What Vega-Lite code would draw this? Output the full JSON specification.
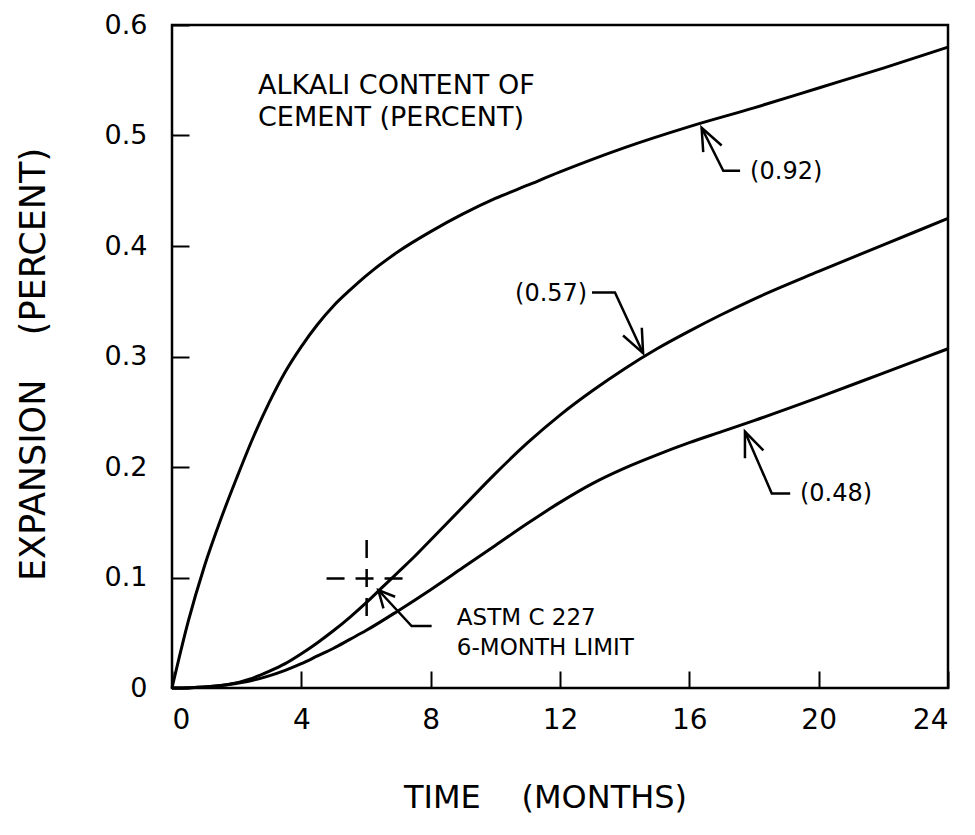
{
  "$schema": "https://vega.github.io/schema/vega-lite/v6.json",
  "width": 776,
  "height": 663,
  "autosize": {"type": "none"},
  "padding": {"left": 172, "top": 25, "right": 27, "bottom": 147},
  "background": "white",
  "config": {
    "view": {"stroke": "black", "strokeWidth": 2.5},
    "font": "DejaVu Sans",
    "axis": {
      "domain": false,
      "grid": false,
      "ticks": true,
      "tickColor": "black",
      "tickWidth": 2,
      "tickSize": -17,
      "labelColor": "black",
      "labelFont": "DejaVu Sans",
      "labelFontSize": 27,
      "titleColor": "black",
      "titleFont": "DejaVu Sans",
      "titleFontWeight": "normal"
    }
  },
  "datasets": {
    "curves": [
      {"alkali": "0.92", "t": 0, "v": 0},
      {"alkali": "0.92", "t": 0.5, "v": 0.06},
      {"alkali": "0.92", "t": 1.0, "v": 0.11},
      {"alkali": "0.92", "t": 1.5, "v": 0.152},
      {"alkali": "0.92", "t": 2.0, "v": 0.19},
      {"alkali": "0.92", "t": 2.5, "v": 0.226},
      {"alkali": "0.92", "t": 3.0, "v": 0.258},
      {"alkali": "0.92", "t": 3.5, "v": 0.286},
      {"alkali": "0.92", "t": 4.0, "v": 0.309},
      {"alkali": "0.92", "t": 4.5, "v": 0.329},
      {"alkali": "0.92", "t": 5.0, "v": 0.346},
      {"alkali": "0.92", "t": 5.5, "v": 0.36},
      {"alkali": "0.92", "t": 6.0, "v": 0.373},
      {"alkali": "0.92", "t": 7.0, "v": 0.395},
      {"alkali": "0.92", "t": 8.0, "v": 0.413},
      {"alkali": "0.92", "t": 9.0, "v": 0.429},
      {"alkali": "0.92", "t": 10.0, "v": 0.443},
      {"alkali": "0.92", "t": 11.0, "v": 0.455},
      {"alkali": "0.92", "t": 12.0, "v": 0.467},
      {"alkali": "0.92", "t": 14.0, "v": 0.489},
      {"alkali": "0.92", "t": 16.0, "v": 0.508},
      {"alkali": "0.92", "t": 18.0, "v": 0.525},
      {"alkali": "0.92", "t": 20.0, "v": 0.543},
      {"alkali": "0.92", "t": 22.0, "v": 0.561},
      {"alkali": "0.92", "t": 24, "v": 0.58},
      {"alkali": "0.57", "t": 0, "v": 0},
      {"alkali": "0.57", "t": 1.0, "v": 0.001},
      {"alkali": "0.57", "t": 1.7, "v": 0.003},
      {"alkali": "0.57", "t": 2.5, "v": 0.009},
      {"alkali": "0.57", "t": 3.0, "v": 0.015},
      {"alkali": "0.57", "t": 3.5, "v": 0.022},
      {"alkali": "0.57", "t": 4.0, "v": 0.031},
      {"alkali": "0.57", "t": 4.5, "v": 0.041},
      {"alkali": "0.57", "t": 5.0, "v": 0.052},
      {"alkali": "0.57", "t": 5.5, "v": 0.064},
      {"alkali": "0.57", "t": 6.0, "v": 0.077},
      {"alkali": "0.57", "t": 6.5, "v": 0.091},
      {"alkali": "0.57", "t": 7.0, "v": 0.105},
      {"alkali": "0.57", "t": 7.5, "v": 0.119},
      {"alkali": "0.57", "t": 8.0, "v": 0.134},
      {"alkali": "0.57", "t": 9.0, "v": 0.164},
      {"alkali": "0.57", "t": 10.0, "v": 0.194},
      {"alkali": "0.57", "t": 11.0, "v": 0.222},
      {"alkali": "0.57", "t": 12.0, "v": 0.247},
      {"alkali": "0.57", "t": 13.0, "v": 0.269},
      {"alkali": "0.57", "t": 14.0, "v": 0.289},
      {"alkali": "0.57", "t": 15.0, "v": 0.307},
      {"alkali": "0.57", "t": 16.0, "v": 0.323},
      {"alkali": "0.57", "t": 17.0, "v": 0.338},
      {"alkali": "0.57", "t": 18.0, "v": 0.352},
      {"alkali": "0.57", "t": 20.0, "v": 0.377},
      {"alkali": "0.57", "t": 22.0, "v": 0.401},
      {"alkali": "0.57", "t": 24, "v": 0.425},
      {"alkali": "0.48", "t": 0, "v": 0},
      {"alkali": "0.48", "t": 1.0, "v": 0.001},
      {"alkali": "0.48", "t": 1.7, "v": 0.003},
      {"alkali": "0.48", "t": 2.5, "v": 0.007},
      {"alkali": "0.48", "t": 3.0, "v": 0.011},
      {"alkali": "0.48", "t": 3.5, "v": 0.016},
      {"alkali": "0.48", "t": 4.0, "v": 0.022},
      {"alkali": "0.48", "t": 4.5, "v": 0.029},
      {"alkali": "0.48", "t": 5.0, "v": 0.036},
      {"alkali": "0.48", "t": 5.5, "v": 0.044},
      {"alkali": "0.48", "t": 6.0, "v": 0.052},
      {"alkali": "0.48", "t": 7.0, "v": 0.07},
      {"alkali": "0.48", "t": 8.0, "v": 0.089},
      {"alkali": "0.48", "t": 9.0, "v": 0.109},
      {"alkali": "0.48", "t": 10.0, "v": 0.129},
      {"alkali": "0.48", "t": 11.0, "v": 0.149},
      {"alkali": "0.48", "t": 12.0, "v": 0.168},
      {"alkali": "0.48", "t": 13.0, "v": 0.185},
      {"alkali": "0.48", "t": 14.0, "v": 0.199},
      {"alkali": "0.48", "t": 15.0, "v": 0.211},
      {"alkali": "0.48", "t": 16.0, "v": 0.222},
      {"alkali": "0.48", "t": 17.0, "v": 0.232},
      {"alkali": "0.48", "t": 18.0, "v": 0.242},
      {"alkali": "0.48", "t": 20.0, "v": 0.263},
      {"alkali": "0.48", "t": 22.0, "v": 0.285},
      {"alkali": "0.48", "t": 24, "v": 0.307}
    ],
    "arrows": [
      {"seg": "s92", "i": 0, "t": 17.57, "v": 0.468},
      {"seg": "s92", "i": 1, "t": 17.05, "v": 0.468},
      {"seg": "s92", "i": 2, "t": 16.38, "v": 0.507},
      {"seg": "h92", "i": 0, "t": 16.43, "v": 0.485},
      {"seg": "h92", "i": 1, "t": 16.38, "v": 0.507},
      {"seg": "h92", "i": 2, "t": 17.0, "v": 0.491},
      {"seg": "s57", "i": 0, "t": 12.99, "v": 0.358},
      {"seg": "s57", "i": 1, "t": 13.7, "v": 0.358},
      {"seg": "s57", "i": 2, "t": 14.57, "v": 0.303},
      {"seg": "h57", "i": 0, "t": 14.53, "v": 0.326},
      {"seg": "h57", "i": 1, "t": 14.57, "v": 0.303},
      {"seg": "h57", "i": 2, "t": 13.95, "v": 0.319},
      {"seg": "s48", "i": 0, "t": 19.12, "v": 0.176},
      {"seg": "s48", "i": 1, "t": 18.55, "v": 0.176},
      {"seg": "s48", "i": 2, "t": 17.72, "v": 0.232},
      {"seg": "h48", "i": 0, "t": 17.72, "v": 0.208},
      {"seg": "h48", "i": 1, "t": 17.72, "v": 0.232},
      {"seg": "h48", "i": 2, "t": 18.29, "v": 0.215},
      {"seg": "sastm", "i": 0, "t": 8.03, "v": 0.056},
      {"seg": "sastm", "i": 1, "t": 7.41, "v": 0.056},
      {"seg": "sastm", "i": 2, "t": 6.38, "v": 0.0887},
      {"seg": "hastm", "i": 0, "t": 6.9, "v": 0.0826},
      {"seg": "hastm", "i": 1, "t": 6.38, "v": 0.0887},
      {"seg": "hastm", "i": 2, "t": 6.54, "v": 0.072}
    ],
    "cross": [
      {"seg": "h", "i": 0, "t": 4.78, "v": 0.099},
      {"seg": "h", "i": 1, "t": 7.21, "v": 0.099},
      {"seg": "v", "i": 0, "t": 6.02, "v": 0.134},
      {"seg": "v", "i": 1, "t": 6.02, "v": 0.063}
    ],
    "header": [
      {"text": "ALKALI CONTENT OF", "t": 2.66, "v": 0.545},
      {"text": "CEMENT (PERCENT)", "t": 2.66, "v": 0.516}
    ],
    "curveLabels": [
      {"text": "(0.92)", "t": 17.88, "v": 0.467},
      {"text": "(0.57)", "t": 10.61, "v": 0.357},
      {"text": "(0.48)", "t": 19.42, "v": 0.176}
    ],
    "astm": [
      {"text": "ASTM C 227", "t": 8.81, "v": 0.063},
      {"text": "6-MONTH LIMIT", "t": 8.81, "v": 0.0365}
    ]
  },
  "encoding": {
    "x": {
      "field": "t",
      "type": "quantitative",
      "scale": {"domain": [0, 24], "nice": false, "zero": false},
      "axis": {
        "values": [0, 4, 8, 12, 16, 20, 24],
        "labelPadding": 35,
        "labelFontSize": 28,
        "title": "TIME\u00a0\u00a0\u00a0\u00a0(MONTHS)",
        "titleFontSize": 32,
        "titleX": 373,
        "titleY": 109,
        "titleAnchor": null,
        "titleAlign": "center",
        "titleBaseline": "middle"
      }
    },
    "y": {
      "field": "v",
      "type": "quantitative",
      "scale": {"domain": [0, 0.6], "nice": false},
      "axis": {
        "values": [0, 0.1, 0.2, 0.3, 0.4, 0.5, 0.6],
        "labelExpr": "datum.value == 0 ? '0' : format(datum.value, '.1f')",
        "labelPadding": 42,
        "title": "EXPANSION\u00a0\u00a0\u00a0\u00a0(PERCENT)",
        "titleFontSize": 35,
        "titleAngle": -90,
        "titleX": -139,
        "titleY": 339,
        "titleAlign": "center",
        "titleBaseline": "middle"
      }
    }
  },
  "layer": [
    {
      "data": {"name": "curves"},
      "mark": {"type": "line", "color": "black", "strokeWidth": 3, "interpolate": "monotone"},
      "encoding": {"detail": {"field": "alkali"}}
    },
    {
      "data": {"name": "arrows"},
      "mark": {"type": "line", "color": "black", "strokeWidth": 2.5, "strokeJoin": "miter"},
      "encoding": {"detail": {"field": "seg"}, "order": {"field": "i", "type": "quantitative"}}
    },
    {
      "data": {"name": "cross"},
      "mark": {"type": "line", "color": "black", "strokeWidth": 2.5, "strokeDash": [18, 11]},
      "encoding": {"detail": {"field": "seg"}, "order": {"field": "i", "type": "quantitative"}}
    },
    {
      "data": {"name": "header"},
      "mark": {"type": "text", "align": "left", "baseline": "middle", "fontSize": 27, "color": "black", "font": "DejaVu Sans"},
      "encoding": {"text": {"field": "text"}}
    },
    {
      "data": {"name": "curveLabels"},
      "mark": {"type": "text", "align": "left", "baseline": "middle", "fontSize": 24, "color": "black", "font": "DejaVu Sans"},
      "encoding": {"text": {"field": "text"}}
    },
    {
      "data": {"name": "astm"},
      "mark": {"type": "text", "align": "left", "baseline": "middle", "fontSize": 23, "color": "black", "font": "DejaVu Sans"},
      "encoding": {"text": {"field": "text"}}
    }
  ]
}
